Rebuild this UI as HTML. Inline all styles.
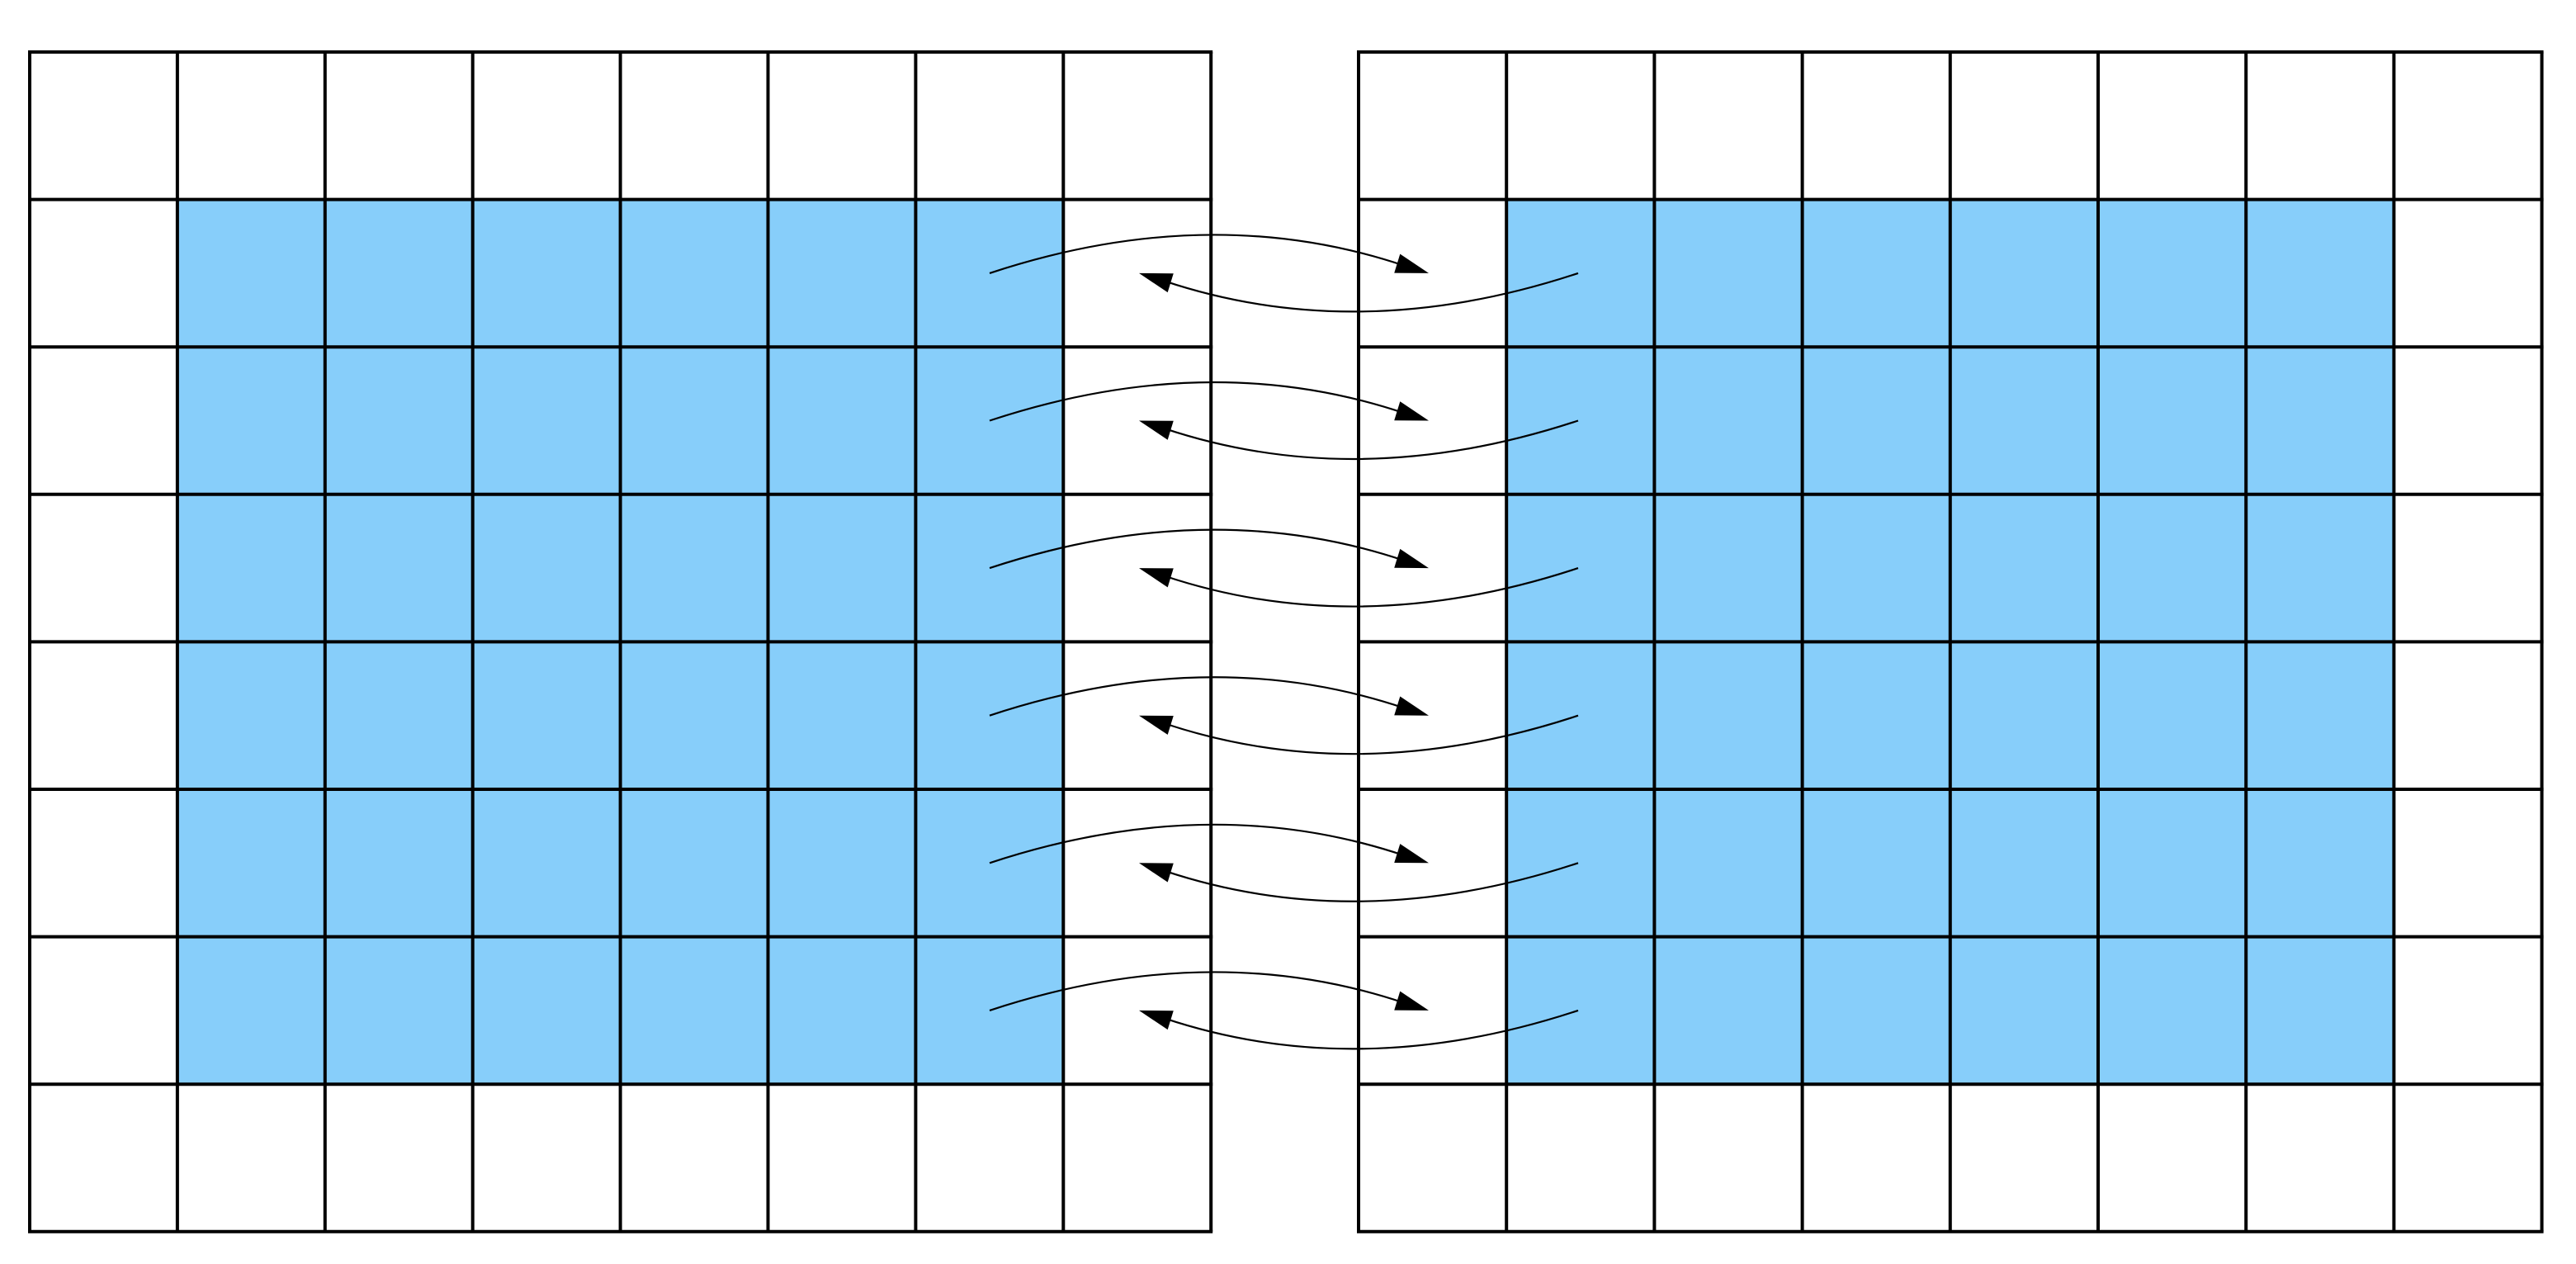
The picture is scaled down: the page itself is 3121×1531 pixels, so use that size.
<!DOCTYPE html>
<html><head><meta charset="utf-8"><style>html,body{margin:0;padding:0;background:#fff}svg{display:block}</style></head>
<body>
<svg id="chart" width="3121" height="1531" viewBox="0 0 3121 1531" xmlns="http://www.w3.org/2000/svg"></svg>
<script>
const gridRows = [0,1,2,3,4,5,6,7];
const gridCols = [0,1,2,3,4,5,6,7];
const blueRows = [1,2,3,4,5,6];
const blueCols = [1,2,3,4,5,6];
const arrowRows = [1,2,3,4,5,6];

const NS = 'http://www.w3.org/2000/svg';
const svg = document.getElementById('chart');
const cellW = 178.9, cellH = 178.6, top0 = 63;
const grids = [{name:'left-grid', x0:36, w:178.9},{name:'right-grid', x0:1646, w:179.2}];
function mk(tag, attrs, parent){const e=document.createElementNS(NS,tag);for(const k in attrs)e.setAttribute(k,attrs[k]);(parent||svg).appendChild(e);return e;}

grids.forEach(g=>{
  const grp = mk('g',{});
  
  
  blueRows.forEach(r=>blueCols.forEach(c=>{
    const rc = mk('rect',{x:g.x0+c*g.w,y:top0+r*cellH,width:g.w,height:cellH,fill:'#87cefa'},grp);
    
    
  }));
  const n = gridCols.length;
  for(let i=0;i<=n;i++){
    const ln = mk('line',{x1:g.x0+i*g.w,y1:top0,x2:g.x0+i*g.w,y2:top0+gridRows.length*cellH,stroke:'#000','stroke-width':4},grp);
    
    
  }
  for(let j=0;j<=gridRows.length;j++){
    const ln = mk('line',{x1:g.x0-2,y1:top0+j*cellH,x2:g.x0+n*g.w+2,y2:top0+j*cellH,stroke:'#000','stroke-width':4},grp);
    
    
  }
});

function arrow(x1,x2,y,bend,name){
  const grp = mk('g',{});
  
  
  const cx=(x1+x2)/2, cy=y+bend;
  // point on curve near tip for head direction
  const t=0.93;
  const px=(1-t)*(1-t)*x1+2*(1-t)*t*cx+t*t*x2;
  const py=(1-t)*(1-t)*y+2*(1-t)*t*cy+t*t*y;
  let dx=x2-px, dy=y-py; const L=Math.hypot(dx,dy); dx/=L; dy/=L;
  const hl=40, hw=12;
  const bx=x2-dx*hl, by=y-dy*hl;
  const p = mk('path',{d:`M${x1},${y} Q${cx},${cy} ${x2-dx*hl*0.8},${y-dy*hl*0.8}`,fill:'none',stroke:'#000','stroke-width':2.2},grp);
  
  
  const h = mk('polygon',{points:`${x2},${y} ${bx-dy*hw},${by+dx*hw} ${bx+dy*hw},${by-dx*hw}`,fill:'#000'},grp);
  
  
}
arrowRows.forEach(r=>{
  const y = top0 + (r+0.5)*cellH;
  arrow(1199,1731,y,-88,'arrow-left-to-right');
  arrow(1912,1380,y,88,'arrow-right-to-left');
});
</script>
</body></html>
